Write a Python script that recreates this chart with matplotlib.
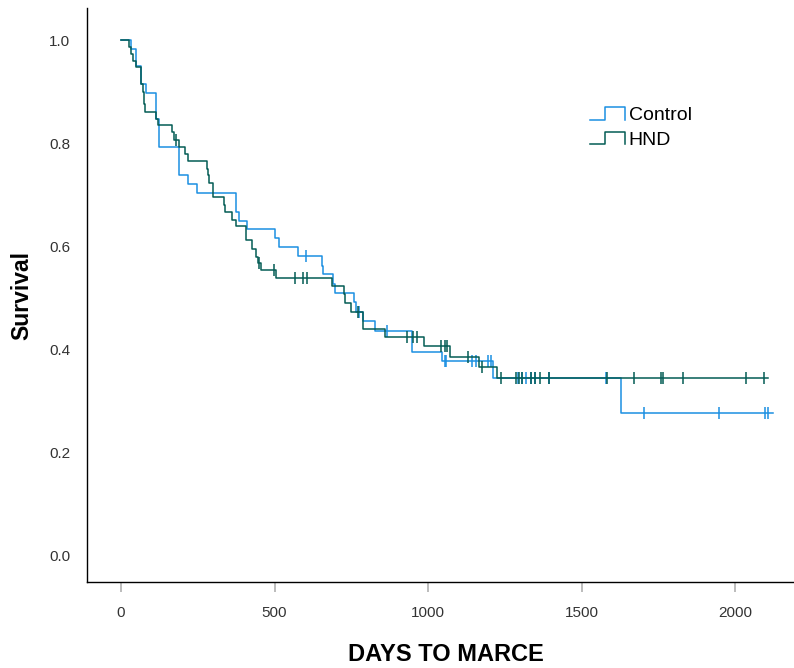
import matplotlib
matplotlib.use("Agg")
import matplotlib.pyplot as plt
from matplotlib.legend_handler import HandlerBase
from matplotlib.lines import Line2D

plt.rcParams["font.family"] = ["Liberation Sans", "DejaVu Sans"]

BLUE = "#1b8fe2"
GREEN = "#045c55"

# Kaplan-Meier steps (day, survival after the drop)
control_t = [0, 31, 49, 65, 81, 113, 123, 190, 217, 248, 375, 384, 409, 501, 515,
             577, 655, 658, 689, 696, 759, 766, 789, 827, 947, 1046, 1211, 1628]
control_s = [1.0, 0.983, 0.950, 0.916, 0.898, 0.848, 0.793, 0.739, 0.722, 0.704,
             0.668, 0.650, 0.634, 0.616, 0.599, 0.581, 0.563, 0.546, 0.528, 0.510,
             0.492, 0.474, 0.455, 0.436, 0.396, 0.377, 0.345, 0.278]
control_end = 2122
control_cens_t = [601, 775, 866, 1054, 1059, 1144, 1155, 1195, 1204, 1292, 1307, 1320,
                  1336, 1347, 1393, 1580, 1702, 1948, 2098, 2108]
control_cens_s = [0.581, 0.474, 0.436, 0.377, 0.377, 0.377, 0.377, 0.377, 0.377, 0.345,
                  0.345, 0.345, 0.345, 0.345, 0.345, 0.345, 0.278, 0.278, 0.278, 0.278]

hnd_t = [0, 27, 33, 40, 49, 64, 66, 70, 75, 78, 114, 121, 165, 173, 187, 208, 219,
         279, 282, 285, 300, 336, 340, 362, 374, 407, 428, 441, 446, 456, 506, 687,
         725, 729, 749, 788, 859, 987, 1070, 1166, 1225]
hnd_s = [1.0, 0.987, 0.974, 0.961, 0.948, 0.932, 0.916, 0.900, 0.877, 0.861, 0.848,
         0.836, 0.822, 0.807, 0.793, 0.780, 0.766, 0.751, 0.738, 0.723, 0.696, 0.681,
         0.668, 0.652, 0.639, 0.612, 0.596, 0.579, 0.568, 0.555, 0.539, 0.523, 0.508,
         0.491, 0.474, 0.440, 0.425, 0.408, 0.386, 0.366, 0.344]
hnd_end = 2108
hnd_cens_t = [179, 450, 499, 566, 591, 604, 771, 930, 950, 965, 1043, 1054, 1061, 1130,
              1176, 1236, 1285, 1296, 1307, 1334, 1347, 1363, 1395, 1583, 1670, 1759,
              1766, 1831, 2035, 2095]
hnd_cens_s = [0.807, 0.568, 0.555, 0.539, 0.539, 0.539, 0.474, 0.425, 0.425, 0.425,
              0.408, 0.408, 0.408, 0.386, 0.366, 0.344, 0.344, 0.344, 0.344, 0.344,
              0.344, 0.344, 0.344, 0.344, 0.344, 0.344, 0.344, 0.344, 0.344, 0.344]

groups = ["Control", "HND"]
x_ticks = [0, 500, 1000, 1500, 2000]
y_ticks = [0.0, 0.2, 0.4, 0.6, 0.8, 1.0]


class StepHandler(HandlerBase):
    # little step-shaped legend key
    def create_artists(self, legend, orig, xd, yd, w, h, fontsize, trans):
        xs = [xd, xd + 0.45 * w, xd + 0.45 * w, xd + w, xd + w]
        ys = [yd + 0.05 * h, yd + 0.05 * h, yd + 0.95 * h, yd + 0.95 * h, yd + 0.05 * h]
        ln = Line2D(xs, ys, color=orig.get_color(), lw=orig.get_linewidth())
        ln.set_transform(trans)
        return [ln]


fig = plt.figure(figsize=(7.94, 6.68), dpi=100)
ax = fig.add_axes([0.1096, 0.1287, 0.8904, 0.8593])

handles = []
for lab, t, s, end, ct, cs, c in [
        ("Control", control_t, control_s, control_end, control_cens_t, control_cens_s, BLUE),
        ("HND", hnd_t, hnd_s, hnd_end, hnd_cens_t, hnd_cens_s, GREEN)]:
    h, = ax.step(t + [end], s + [s[-1]], where="post", color=c, lw=1.1, label=lab)
    ax.plot(ct, cs, ls="none", marker="|", ms=8, mew=1.1, color=c)
    handles.append(h)

ax.set_xlim(-111, 2192)
ax.set_ylim(-0.051, 1.063)
ax.set_xticks(x_ticks)
ax.set_yticks(y_ticks)
ax.set_yticklabels([f"{v:.1f}" for v in y_ticks])

for sp in ("top", "right"):
    ax.spines[sp].set_visible(False)
for sp in ("left", "bottom"):
    ax.spines[sp].set_linewidth(1.0)
    ax.spines[sp].set_color("black")

ax.tick_params(axis="x", length=7.5, width=1.2, color="#b0b0b0", pad=10,
               labelsize=11, labelcolor="#333333", direction="out")
ax.tick_params(axis="y", length=0, pad=12, labelsize=11, labelcolor="#333333")

ax.set_xlabel("DAYS TO MARCE", fontsize=17, fontweight="bold")
ax.set_ylabel("Survival", fontsize=16.5, fontweight="bold")
ax.xaxis.set_label_coords(0.508, -0.106)
ax.yaxis.set_label_coords(-0.076, 0.5)

ax.legend(handles, groups, loc="upper left", bbox_to_anchor=(0.711, 0.828),
          frameon=False, fontsize=14, handlelength=1.8, handletextpad=0.2,
          labelspacing=0.35, borderpad=0, borderaxespad=0,
          handler_map={Line2D: StepHandler()})

fig.savefig("out.png", dpi=100)
